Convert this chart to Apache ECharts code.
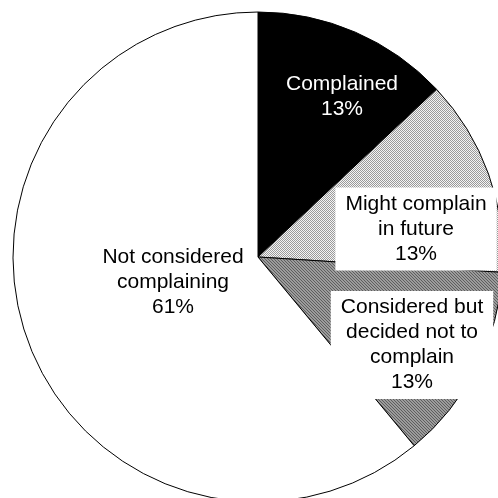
<!DOCTYPE html>
<html>
<head>
<meta charset="utf-8">
<script src="https://cdn.jsdelivr.net/npm/echarts@6/dist/echarts.min.js"></script>
<style>
  html, body { margin: 0; padding: 0; background: #fff; }
  #chart { width: 498px; height: 498px; }
</style>
</head>
<body>
<div id="chart"></div>
<script>
// Survey answers: share of respondents by complaint behaviour
const categories = [
  'Complained',
  'Might complain\nin future',
  'Considered but\ndecided not to\ncomplain',
  'Not considered\ncomplaining'
];
const shares = [13, 13, 13, 61];

// Small tiled fills for the patterned slices
function makePattern(size, painter) {
  const c = document.createElement('canvas');
  c.width = size; c.height = size;
  const ctx = c.getContext('2d');
  for (let y = 0; y < size; y++) {
    for (let x = 0; x < size; x++) {
      ctx.fillStyle = painter(x, y);
      ctx.fillRect(x, y, 1, 1);
    }
  }
  return { image: c, repeat: 'repeat' };
}
const dotted = makePattern(2, (x, y) => ((x + y) % 2 === 0 ? '#9a9a9a' : '#f4f4f4'));
const hatched = makePattern(3, (x, y) => ((x - y + 3) % 3 === 0 ? '#5e5e5e' : '#9c9c9c'));

const fills = ['#000000', dotted, hatched, '#ffffff'];
const labelColors = ['#ffffff', '#000000', '#000000', '#000000'];
const labelBoxes = [null, '#ffffff', '#ffffff', null];
// label anchor points (pixels) for each slice
const labelSpots = [[342, 97], [416, 229], [412, 345], [173, 282]];

const chart = echarts.init(document.getElementById('chart'), null, { renderer: 'canvas' });
chart.setOption({
  animation: false,
  backgroundColor: '#ffffff',
  series: [{
    type: 'pie',
    center: [258, 257],
    radius: 245,
    startAngle: 90,
    clockwise: true,
    avoidLabelOverlap: false,
    silent: true,
    label: {
      show: true,
      position: 'inside',
      fontFamily: 'Liberation Sans, Arial, sans-serif',
      fontSize: 21,
      lineHeight: 25,
      align: 'center',
      formatter: p => p.name + '\n' + p.value + '%'
    },
    labelLine: { show: false },
    labelLayout: p => ({
      x: labelSpots[p.dataIndex][0],
      y: labelSpots[p.dataIndex][1],
      align: 'center',
      verticalAlign: 'middle'
    }),
    itemStyle: { borderColor: '#000000', borderWidth: 1 },
    data: categories.map((name, i) => ({
      name: name,
      value: shares[i],
      itemStyle: { color: fills[i] },
      label: {
        color: labelColors[i],
        backgroundColor: labelBoxes[i] || 'transparent',
        padding: labelBoxes[i] ? [4, 10, 4, 10] : 0
      }
    }))
  }]
});
</script>
</body>
</html>
